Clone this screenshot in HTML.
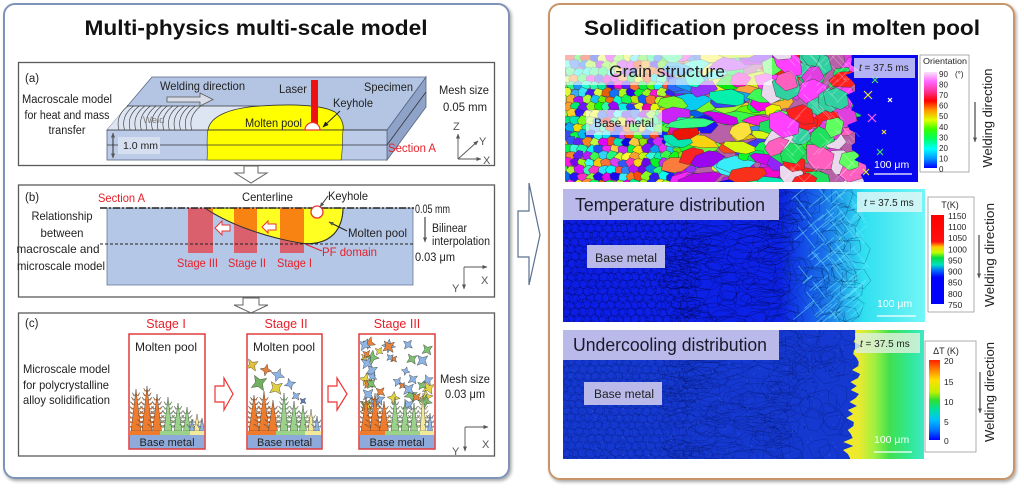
<!DOCTYPE html>
<html><head><meta charset="utf-8"><title>Multi-physics multi-scale model</title>
<style>
html,body{margin:0;padding:0;background:#fff}
body{width:1024px;height:488px;overflow:hidden}
svg{display:block}
text{font-family:"Liberation Sans",Arial,sans-serif}
</style></head><body>
<svg id="s" width="1024" height="488" viewBox="0 0 1024 488" xmlns="http://www.w3.org/2000/svg">
<defs>
<filter id="sh" x="-3%" y="-3%" width="106%" height="106%"><feDropShadow dx="1.5" dy="2" stdDeviation="1.5" flood-color="#000" flood-opacity="0.35"/></filter>
<marker id="ah" viewBox="0 0 10 10" refX="9" refY="5" markerWidth="6" markerHeight="6" markerUnits="userSpaceOnUse" orient="auto-start-reverse"><path d="M0,1 L10,5 L0,9 z" fill="#222"/></marker>
<marker id="ahs" viewBox="0 0 10 10" refX="9" refY="5" markerWidth="5" markerHeight="5" markerUnits="userSpaceOnUse" orient="auto-start-reverse"><path d="M0,1 L10,5 L0,9 z" fill="#555"/></marker>
<linearGradient id="gOri" x1="0" y1="0" x2="0" y2="1">
<stop offset="0" stop-color="#f8e4f8"/><stop offset="0.1" stop-color="#ff66ff"/><stop offset="0.2" stop-color="#ff3399"/><stop offset="0.3" stop-color="#ff0000"/><stop offset="0.4" stop-color="#ff9900"/><stop offset="0.5" stop-color="#e0ff00"/><stop offset="0.6" stop-color="#33ff00"/><stop offset="0.7" stop-color="#00ff66"/><stop offset="0.8" stop-color="#00ffff"/><stop offset="0.9" stop-color="#0099ff"/><stop offset="1" stop-color="#0000ff"/>
</linearGradient>
<linearGradient id="gT" x1="0" y1="0" x2="0" y2="1">
<stop offset="0" stop-color="#ff0000"/><stop offset="0.3" stop-color="#ff1010"/><stop offset="0.36" stop-color="#ffcc00"/><stop offset="0.42" stop-color="#c0ff00"/><stop offset="0.48" stop-color="#00e040"/><stop offset="0.56" stop-color="#00e0c0"/><stop offset="0.63" stop-color="#0060ff"/><stop offset="0.7" stop-color="#0000ff"/><stop offset="1" stop-color="#0000ff"/>
</linearGradient>
<linearGradient id="gU" x1="0" y1="0" x2="0" y2="1">
<stop offset="0" stop-color="#ff2000"/><stop offset="0.12" stop-color="#ff8000"/><stop offset="0.25" stop-color="#ffe000"/><stop offset="0.4" stop-color="#c0f000"/><stop offset="0.5" stop-color="#30e030"/><stop offset="0.62" stop-color="#00e0a0"/><stop offset="0.75" stop-color="#00c0ff"/><stop offset="0.88" stop-color="#0070ff"/><stop offset="1" stop-color="#0000ff"/>
</linearGradient>
<linearGradient id="g2bg" gradientUnits="userSpaceOnUse" x1="563" y1="0" x2="925" y2="0">
<stop offset="0" stop-color="#0c1ee6"/><stop offset="0.6" stop-color="#0c22e6"/><stop offset="0.72" stop-color="#1a70e8"/><stop offset="0.83" stop-color="#30e0f0"/><stop offset="1" stop-color="#74f6f6"/>
</linearGradient>
<linearGradient id="g3r" gradientUnits="userSpaceOnUse" x1="848" y1="0" x2="924" y2="0">
<stop offset="0" stop-color="#f4ea2a"/><stop offset="0.15" stop-color="#e8ea30"/><stop offset="0.35" stop-color="#a0f040"/><stop offset="0.55" stop-color="#40e050"/><stop offset="0.8" stop-color="#30e890"/><stop offset="1" stop-color="#40e8c8"/>
</linearGradient>
<clipPath id="c1"><rect x="565" y="55" width="353" height="127"/></clipPath>
<clipPath id="c2"><rect x="563" y="189" width="362" height="133"/></clipPath>
<clipPath id="c3"><rect x="563" y="330" width="361" height="129"/></clipPath>
<clipPath id="pool"><path d="M205,208 C225,222 260,236 300,243 C312,245 325,243 334,234 C341,226 343,216 343,208 Z"/></clipPath>
<clipPath id="k1"><rect x="130" y="335" width="74" height="100"/></clipPath>
<clipPath id="k2"><rect x="248" y="335" width="73" height="100"/></clipPath>
<clipPath id="k3"><rect x="360" y="335" width="74" height="100"/></clipPath>
</defs>

<!-- Outer panels -->
<rect x="4" y="4" width="505" height="474" rx="11" fill="#fff" stroke="#7d93b8" stroke-width="2" filter="url(#sh)"/>
<rect x="549" y="4" width="465" height="475" rx="11" fill="#fff" stroke="#c8956a" stroke-width="2" filter="url(#sh)"/>

<text x="256" y="35" font-size="21" font-weight="bold" text-anchor="middle" textLength="343" lengthAdjust="spacingAndGlyphs" fill="#111">Multi-physics multi-scale model</text>
<text x="782" y="35" font-size="21" font-weight="bold" text-anchor="middle" textLength="396" lengthAdjust="spacingAndGlyphs" fill="#111">Solidification process in molten pool</text>

<!-- big arrow between panels -->
<polygon points="518,211 529,211 529,183 540,235 529,285 529,257 518,257" fill="#fff" stroke="#5a7090" stroke-width="1.2"/>

<!-- ============ Panel (a) ============ -->
<rect x="18.5" y="62.5" width="476" height="103" fill="#fff" stroke="#5a5a5a" stroke-width="1.3"/>
<text x="25" y="82" font-size="11.5" fill="#222">(a)</text>
<g font-size="11.5" fill="#222" text-anchor="middle">
<text x="67" y="103" textLength="90" lengthAdjust="spacingAndGlyphs">Macroscale model</text>
<text x="67" y="119" textLength="85" lengthAdjust="spacingAndGlyphs">for heat and mass</text>
<text x="67" y="134" textLength="37" lengthAdjust="spacingAndGlyphs">transfer</text>
</g>
<polygon points="387,130 426,77 426,107 387,160" fill="#8fa3c9" stroke="#56647f" stroke-width="0.8"/>
<polygon points="107,130 152,77 426,77 387,130" fill="#b4c5e4" stroke="#56647f" stroke-width="0.8"/>
<rect x="107" y="130" width="280" height="30" fill="#bccbe8" stroke="#56647f" stroke-width="0.8"/>
<polygon points="107,130 127,106 290,106 208,130" fill="#dde5f2"/>
<g id="wa" fill="none" stroke="#333" stroke-width="0.6"></g>
<line x1="127" y1="106" x2="290" y2="106" stroke="#333" stroke-width="0.8"/>
<path d="M208,130 C210,116 230,108 260,106 C290,104 320,104 335,112 C342,118 344,125 343,130 Z" fill="#ffff00" stroke="#333" stroke-width="0.8"/>
<path d="M208,130 L343,130 C342,140 343,150 341,160 L207,160 C208,150 206,140 208,130 Z" fill="#ffff00" stroke="#333" stroke-width="0.6"/>
<line x1="107" y1="145" x2="387" y2="145" stroke="#333" stroke-width="0.8"/>
<line x1="387" y1="145" x2="426" y2="92" stroke="#333" stroke-width="0.8"/>
<line x1="107" y1="130" x2="387" y2="130" stroke="#333" stroke-width="0.8"/>
<rect x="311" y="80" width="7" height="45" fill="#ee1111"/>
<path d="M305,130 A7.5,7.5 0 0 1 320,130 Z" fill="#fff" stroke="#e33" stroke-width="1.2"/>
<line x1="340" y1="111" x2="323" y2="127" stroke="#222" stroke-width="0.9" marker-end="url(#ah)"/>
<text x="160" y="90" font-size="12" fill="#222" textLength="85" lengthAdjust="spacingAndGlyphs">Welding direction</text>
<polygon points="167,97 200,97 200,93 213,99.5 200,106 200,102 167,102" fill="#d8dde8" stroke="#555" stroke-width="0.8"/>
<text x="279" y="93" font-size="12" fill="#222" textLength="28" lengthAdjust="spacingAndGlyphs">Laser</text>
<text x="364" y="91" font-size="12" fill="#222" textLength="49" lengthAdjust="spacingAndGlyphs">Specimen</text>
<text x="333" y="107" font-size="12" fill="#222" textLength="40" lengthAdjust="spacingAndGlyphs">Keyhole</text>
<text x="245" y="127" font-size="12" fill="#222" textLength="57" lengthAdjust="spacingAndGlyphs">Molten pool</text>
<text x="143" y="123" font-size="9.5" fill="#7a7a7a">Weld</text>
<rect x="118" y="137" width="42" height="17" fill="#d5dff0"/>
<text x="123" y="149" font-size="10.5" fill="#222">1.0 mm</text>
<line x1="113" y1="133" x2="113" y2="158" stroke="#222" stroke-width="0.9" marker-start="url(#ahs)" marker-end="url(#ahs)"/>
<text x="388" y="152" font-size="11.5" fill="#e8202a" textLength="48" lengthAdjust="spacingAndGlyphs">Section A</text>
<text x="439" y="94" font-size="12" fill="#222" textLength="50" lengthAdjust="spacingAndGlyphs">Mesh size</text>
<text x="443" y="111" font-size="12" fill="#222" textLength="44" lengthAdjust="spacingAndGlyphs">0.05 mm</text>
<g stroke="#555" stroke-width="0.9">
<line x1="458" y1="159" x2="458" y2="134" marker-end="url(#ahs)"/>
<line x1="458" y1="159" x2="481" y2="159" marker-end="url(#ahs)"/>
<line x1="458" y1="159" x2="478" y2="141" marker-end="url(#ahs)"/>
</g>
<g font-size="11" fill="#555"><text x="453" y="130">Z</text><text x="479" y="145">Y</text><text x="483" y="164">X</text></g>

<!-- arrow a->b -->
<polygon points="244,166 258,166 258,173 267,173 251,183 235,173 244,173" fill="#fff" stroke="#666" stroke-width="1"/>

<!-- ============ Panel (b) ============ -->
<rect x="18.5" y="185" width="476" height="112" fill="#fff" stroke="#5a5a5a" stroke-width="1.3"/>
<text x="25" y="201" font-size="11.5" fill="#222">(b)</text>
<rect x="107" y="208" width="306" height="77" fill="#b5c7e7" stroke="#6a7a9a" stroke-width="0.8"/>
<path d="M205,208 C225,222 260,236 300,243 C312,245 325,243 334,234 C341,226 343,216 343,208 Z" fill="#ffff22" stroke="#333" stroke-width="1"/>
<g fill="#d9606c">
<rect x="188" y="208" width="25" height="45"/><rect x="234" y="208" width="23" height="45"/><rect x="280" y="208" width="24" height="45"/>
</g>
<g fill="#f88212" clip-path="url(#pool)">
<rect x="188" y="208" width="25" height="45"/><rect x="234" y="208" width="23" height="45"/><rect x="280" y="208" width="24" height="45"/>
</g>
<path d="M205,208 C225,222 260,236 300,243 C312,245 325,243 334,234 C341,226 343,216 343,208" fill="none" stroke="#333" stroke-width="1"/>
<line x1="100" y1="208" x2="414" y2="208" stroke="#222" stroke-width="1.5" stroke-dasharray="7,2,2,2"/>
<line x1="100" y1="244" x2="413" y2="244" stroke="#222" stroke-width="1" stroke-dasharray="3,2"/>
<circle cx="317" cy="212" r="6" fill="#fff" stroke="#e33" stroke-width="1.3"/>
<polygon points="215,228 222,221 222,225 230,225 230,231 222,231 222,235" fill="#fff" stroke="#e33" stroke-width="1"/>
<polygon points="262,227 268,221 268,224 276,224 276,230 268,230 268,233" fill="#fff" stroke="#e33" stroke-width="1"/>
<text x="98" y="202" font-size="12" fill="#e8202a" textLength="47" lengthAdjust="spacingAndGlyphs">Section A</text>
<text x="242" y="201" font-size="12" fill="#222" textLength="51" lengthAdjust="spacingAndGlyphs">Centerline</text>
<text x="328" y="200" font-size="12" fill="#222" textLength="40" lengthAdjust="spacingAndGlyphs">Keyhole</text>
<line x1="328" y1="196" x2="320" y2="207" stroke="#222" stroke-width="0.9" marker-end="url(#ahs)"/>
<text x="348" y="237" font-size="12" fill="#222" textLength="59" lengthAdjust="spacingAndGlyphs">Molten pool</text>
<line x1="347" y1="231" x2="329" y2="222" stroke="#222" stroke-width="1" marker-end="url(#ahs)"/>
<text x="322" y="256" font-size="12" fill="#e8202a" textLength="55" lengthAdjust="spacingAndGlyphs">PF domain</text>
<line x1="322" y1="251" x2="305" y2="244" stroke="#e8202a" stroke-width="1"/>
<g font-size="12" fill="#e8202a">
<text x="177" y="267" textLength="41" lengthAdjust="spacingAndGlyphs">Stage III</text>
<text x="228" y="267" textLength="38" lengthAdjust="spacingAndGlyphs">Stage II</text>
<text x="277" y="267" textLength="35" lengthAdjust="spacingAndGlyphs">Stage I</text>
</g>
<g font-size="12" fill="#222" text-anchor="middle">
<text x="62" y="220" textLength="61" lengthAdjust="spacingAndGlyphs">Relationship</text>
<text x="62" y="237" textLength="43" lengthAdjust="spacingAndGlyphs">between</text>
<text x="58" y="253" textLength="83" lengthAdjust="spacingAndGlyphs">macroscale and</text>
<text x="61" y="270" textLength="88" lengthAdjust="spacingAndGlyphs">microscale model</text>
</g>
<text x="415" y="213" font-size="11.5" fill="#222" textLength="35" lengthAdjust="spacingAndGlyphs">0.05 mm</text>
<line x1="425" y1="217" x2="425" y2="242" stroke="#222" stroke-width="1" marker-end="url(#ahs)"/>
<text x="432" y="232" font-size="11.5" fill="#222" textLength="35" lengthAdjust="spacingAndGlyphs">Bilinear</text>
<text x="432" y="245" font-size="11.5" fill="#222" textLength="58" lengthAdjust="spacingAndGlyphs">interpolation</text>
<text x="415" y="261" font-size="11.5" fill="#222" textLength="40" lengthAdjust="spacingAndGlyphs">0.03 μm</text>
<g stroke="#555" stroke-width="0.9">
<line x1="464" y1="267" x2="487" y2="267" marker-end="url(#ahs)"/>
<line x1="464" y1="267" x2="464" y2="289" marker-end="url(#ahs)"/>
</g>
<g font-size="11" fill="#555"><text x="452" y="292">Y</text><text x="481" y="284">X</text></g>

<!-- arrow b->c -->
<polygon points="243,298 259,298 259,305 268,305 251,313 234,305 243,305" fill="#fff" stroke="#666" stroke-width="1"/>

<!-- ============ Panel (c) ============ -->
<rect x="18.5" y="313" width="476" height="143" fill="#fff" stroke="#5a5a5a" stroke-width="1.3"/>
<text x="25" y="327" font-size="11.5" fill="#222">(c)</text>
<g font-size="12" fill="#222">
<text x="23" y="373" textLength="87" lengthAdjust="spacingAndGlyphs">Microscale model</text>
<text x="23" y="389" textLength="86" lengthAdjust="spacingAndGlyphs">for polycrystalline</text>
<text x="23" y="404" textLength="87" lengthAdjust="spacingAndGlyphs">alloy solidification</text>
</g>
<g font-size="12.5" fill="#e8202a" text-anchor="middle">
<text x="166" y="328">Stage I</text><text x="286" y="328">Stage II</text><text x="397" y="328">Stage III</text>
</g>
<rect x="129" y="334" width="76" height="115" fill="#fff"/>
<rect x="247" y="334" width="75" height="115" fill="#fff"/>
<rect x="359" y="334" width="76" height="115" fill="#fff"/>
<g id="d1" clip-path="url(#k1)"></g>
<g id="d2" clip-path="url(#k2)"></g>
<g id="d3" clip-path="url(#k3)"></g>
<g>
<rect x="130" y="431" width="30" height="4" fill="#ef7b2c"/><rect x="160" y="431" width="30" height="4" fill="#9ad28a"/><rect x="190" y="431" width="14" height="4" fill="#f2ea9a"/>
<rect x="248" y="431" width="28" height="4" fill="#ef7b2c"/><rect x="276" y="431" width="29" height="4" fill="#9ad28a"/><rect x="305" y="431" width="16" height="4" fill="#f2ea9a"/>
<rect x="360" y="431" width="25" height="4" fill="#ef7b2c"/><rect x="385" y="431" width="35" height="4" fill="#9ad28a"/><rect x="420" y="431" width="14" height="4" fill="#f2ea9a"/>
</g>
<rect x="129.7" y="435" width="74.6" height="13.5" fill="#8eaadb"/>
<rect x="247.7" y="435" width="73.6" height="13.5" fill="#8eaadb"/>
<rect x="359.7" y="435" width="74.6" height="13.5" fill="#8eaadb"/>
<g font-size="11" fill="#222" text-anchor="middle">
<text x="167" y="446">Base metal</text><text x="284.5" y="446">Base metal</text><text x="397" y="446">Base metal</text>
<text x="166" y="351" font-size="12">Molten pool</text><text x="284" y="351" font-size="12">Molten pool</text>
</g>
<rect x="129" y="334" width="76" height="115" fill="none" stroke="#e03c3c" stroke-width="1.5"/>
<rect x="247" y="334" width="75" height="115" fill="none" stroke="#e03c3c" stroke-width="1.5"/>
<rect x="359" y="334" width="76" height="115" fill="none" stroke="#e03c3c" stroke-width="1.5"/>
<polygon points="215,386 224,386 224,378 233,394 224,410 224,402 215,402" fill="#fff" stroke="#e33" stroke-width="1.2"/>
<polygon points="328,386 337,386 337,378 347,394 337,410 337,402 328,402" fill="#fff" stroke="#e33" stroke-width="1.2"/>
<text x="440" y="383" font-size="12" fill="#222" textLength="50" lengthAdjust="spacingAndGlyphs">Mesh size</text>
<text x="445" y="398" font-size="12" fill="#222" textLength="40" lengthAdjust="spacingAndGlyphs">0.03 μm</text>
<g stroke="#555" stroke-width="0.9">
<line x1="465" y1="427" x2="488" y2="427" marker-end="url(#ahs)"/>
<line x1="465" y1="427" x2="465" y2="451" marker-end="url(#ahs)"/>
</g>
<g font-size="11" fill="#555"><text x="452" y="455">Y</text><text x="482" y="448">X</text></g>

<!-- ============ Right images ============ -->
<!-- Image 1 -->
<g clip-path="url(#c1)">
<rect x="565" y="55" width="353" height="127" fill="#0808ee"/>
<rect x="565" y="55" width="290" height="127" fill="#b860a8"/>
<g id="g1"></g>
</g>
<rect x="565" y="55" width="207" height="30" fill="#fff" opacity="0.62"/>
<text x="609" y="77" font-size="17" fill="#222" textLength="116" lengthAdjust="spacingAndGlyphs">Grain structure</text>
<rect x="586" y="110" width="76" height="25" fill="#fff" opacity="0.62"/>
<text x="594" y="127" font-size="11.5" fill="#222" textLength="60" lengthAdjust="spacingAndGlyphs">Base metal</text>
<rect x="854" y="58" width="61" height="20" fill="#d0d0f4" opacity="0.85"/>
<text x="859" y="71" font-size="10" fill="#222"><tspan font-style="italic">t</tspan> = 37.5 ms</text>
<text x="874" y="168" font-size="10.5" fill="#fff">100 μm</text>
<line x1="874" y1="174" x2="912" y2="174" stroke="#fff" stroke-width="1.2"/>

<rect x="920" y="55" width="49" height="117" fill="#fff" stroke="#999" stroke-width="0.8"/>
<text x="945" y="64" font-size="8.5" fill="#222" text-anchor="middle" textLength="44" lengthAdjust="spacingAndGlyphs">Orientation</text>
<rect x="924" y="72" width="13" height="96" fill="url(#gOri)"/>
<g font-size="8" fill="#222">
<text x="939" y="77">90</text><text x="955" y="77">(°)</text><text x="939" y="87.6">80</text><text x="939" y="98.1">70</text><text x="939" y="108.7">60</text><text x="939" y="119.2">50</text><text x="939" y="129.8">40</text><text x="939" y="140.4">30</text><text x="939" y="150.9">20</text><text x="939" y="161.5">10</text><text x="939" y="172">0</text>
</g>
<text x="992" y="118" font-size="12.5" fill="#222" text-anchor="middle" transform="rotate(-90 992 118)" textLength="99" lengthAdjust="spacingAndGlyphs">Welding direction</text>
<line x1="975" y1="102" x2="975" y2="142" stroke="#222" stroke-width="1" marker-end="url(#ahs)"/>

<!-- Image 2 -->
<g clip-path="url(#c2)">
<rect x="563" y="189" width="362" height="133" fill="url(#g2bg)"/>
<g id="g2"></g>
</g>
<rect x="563" y="189" width="216" height="31" fill="#b9b9ea"/>
<text x="575" y="211" font-size="18" fill="#1a1a2a" textLength="190" lengthAdjust="spacingAndGlyphs">Temperature distribution</text>
<rect x="587" y="245" width="78" height="23" fill="#b9b9ea"/>
<text x="595" y="262" font-size="11.5" fill="#222" textLength="62" lengthAdjust="spacingAndGlyphs">Base metal</text>
<rect x="857" y="192" width="65" height="20" fill="#dff6f6" opacity="0.85"/>
<text x="864" y="206" font-size="10" fill="#222"><tspan font-style="italic">t</tspan> = 37.5 ms</text>
<text x="877" y="307" font-size="10.5" fill="#fff">100 μm</text>
<line x1="877" y1="316" x2="916" y2="316" stroke="#fff" stroke-width="1.2"/>

<rect x="928" y="197" width="46" height="115" fill="#fff" stroke="#999" stroke-width="0.8"/>
<text x="950" y="208" font-size="9" fill="#222" text-anchor="middle">T(K)</text>
<rect x="931" y="215" width="13" height="89" fill="url(#gT)"/>
<g font-size="8.5" fill="#222">
<text x="948" y="219">1150</text><text x="948" y="230">1100</text><text x="948" y="241">1050</text><text x="948" y="252.5">1000</text><text x="948" y="263.5">950</text><text x="948" y="274.5">900</text><text x="948" y="285.5">850</text><text x="948" y="297">800</text><text x="948" y="308">750</text>
</g>
<text x="994" y="255" font-size="12.5" fill="#222" text-anchor="middle" transform="rotate(-90 994 255)" textLength="104" lengthAdjust="spacingAndGlyphs">Welding direction</text>
<line x1="979" y1="235" x2="979" y2="278" stroke="#222" stroke-width="1" marker-end="url(#ahs)"/>

<!-- Image 3 -->
<g clip-path="url(#c3)">
<rect x="563" y="330" width="361" height="129" fill="#1438d0"/>
<g id="g3"></g>
</g>
<rect x="563" y="330" width="216" height="30" fill="#b9b9ea"/>
<text x="573" y="351" font-size="18" fill="#1a1a2a" textLength="194" lengthAdjust="spacingAndGlyphs">Undercooling distribution</text>
<rect x="584" y="382" width="78" height="23" fill="#b9b9ea"/>
<text x="594" y="398" font-size="11.5" fill="#222" textLength="60" lengthAdjust="spacingAndGlyphs">Base metal</text>
<rect x="855" y="333" width="65" height="20" fill="#dcf0d8" opacity="0.85"/>
<text x="860" y="347" font-size="10" fill="#222"><tspan font-style="italic">t</tspan> = 37.5 ms</text>
<text x="874" y="443" font-size="10.5" fill="#fff">100 μm</text>
<line x1="874" y1="452" x2="912" y2="452" stroke="#fff" stroke-width="1.2"/>

<rect x="925" y="341" width="51" height="111" fill="#fff" stroke="#999" stroke-width="0.8"/>
<text x="946" y="354" font-size="9" fill="#222" text-anchor="middle">ΔT (K)</text>
<rect x="929" y="360" width="11" height="80" fill="url(#gU)"/>
<g font-size="8.5" fill="#222">
<text x="944" y="364">20</text><text x="944" y="385">15</text><text x="944" y="405">10</text><text x="944" y="425">5</text><text x="944" y="444">0</text>
</g>
<text x="994" y="392" font-size="12.5" fill="#222" text-anchor="middle" transform="rotate(-90 994 392)" textLength="100" lengthAdjust="spacingAndGlyphs">Welding direction</text>
<line x1="980" y1="372" x2="980" y2="413" stroke="#222" stroke-width="1" marker-end="url(#ahs)"/>
</svg>

<script>
(function(){
var NS="http://www.w3.org/2000/svg",seed=20240607;
function R(){seed|=0;seed=seed+0x6D2B79F5|0;var t=Math.imul(seed^seed>>>15,1|seed);t=t+Math.imul(t^t>>>7,61|t)^t;return((t^t>>>14)>>>0)/4294967296;}
function E(p,tag,a){var e=document.createElementNS(NS,tag);for(var k in a)e.setAttribute(k,a[k]);p.appendChild(e);return e;}
function P(g,pts,fill,stroke,sw){var a={points:pts.map(function(q){return q[0].toFixed(1)+","+q[1].toFixed(1);}).join(" "),fill:fill};if(stroke){a.stroke=stroke;a["stroke-width"]=sw;}return E(g,"polygon",a);}
function B(cx,cy,rx,ry,ang,n){var p=[],c=Math.cos(ang),s=Math.sin(ang);for(var i=0;i<n;i++){var a=(i+R()*0.5)/n*6.2832,r=0.85+R()*0.3,x=Math.cos(a)*rx*r,y=Math.sin(a)*ry*r;p.push([cx+x*c-y*s,cy+x*s+y*c]);}return p;}
function H(){return "hsl("+Math.floor(R()*320)+",95%,"+(46+Math.floor(R()*16))+"%)";}
function L(g,x1,y1,x2,y2,st,w){return E(g,"line",{x1:x1.toFixed(1),y1:y1.toFixed(1),x2:x2.toFixed(1),y2:y2.toFixed(1),stroke:st,"stroke-width":w});}
function X(g,cx,cy,s,col,ang,st,inner){var f=inner||0.28,p=[];for(var k=0;k<4;k++){var a=ang+k*1.5708;p.push([cx+Math.cos(a)*s,cy+Math.sin(a)*s]);var b=a+0.785;p.push([cx+Math.cos(b)*s*f,cy+Math.sin(b)*s*f]);}P(g,p,col,st||"#333",0.4);}
function grains(g,y0,y1,fillF,st,sw){
 for(var y=y0,r=0;y<y1;y+=7,r++){var lim=688+R()*12;for(var x=558+(r%2)*4;x<lim;x+=8){P(g,B(x+R()*2,y+R()*2,5.6,5,0,6),fillF(),st,sw);}}
 for(var i=0;i<120;i++){var cx=672+R()*118,cy=y0+R()*(y1-y0);P(g,B(cx,cy,9+R()*15,5+R()*5,(R()-0.5)*0.5,7),fillF(),st,sw);}
}
function none(){return "none";}

/* weld ripples in panel (a) */
var wa=document.getElementById("wa");
for(var i=0;i<14;i++){var x=128+i*5.6;E(wa,"path",{d:"M"+x+",106 Q"+(x-13)+",116 "+(x-9)+",130"});}

/* Image 1 grain structure */
var g1=document.getElementById("g1");
grains(g1,50,188,H,"#333",0.4);
var dc=["#ff40ff","#20e060","#ff60c0","#ead8ee","#ff2020","#30d0a0","#e040e0","#60ff60","#20c070"];
for(var i=0;i<70;i++){var cx=768+R()*90,cy=50+R()*136;P(g1,B(cx,cy,9+R()*8,8+R()*6,(R()-0.5)*1.2,6),dc[Math.floor(R()*dc.length)],"#333",0.4);}
for(var i=0;i<70;i++){var cx=785+R()*75,cy=55+R()*127,l=5+R()*8,a=R()<0.5?0.8:-0.8;L(g1,cx-l*Math.cos(a),cy-l*Math.sin(a),cx+l*Math.cos(a),cy+l*Math.sin(a),"rgba(255,255,255,0.3)",0.8);}
var pts=[[920,50],[852,50]];for(var y=50;y<=190;y+=5){pts.push([845+R()*16+(y>150?6:0),y]);}pts.push([920,190]);
P(g1,pts,"#0808ee");
var cc=["#e8e040","#40e060","#ff60ff","#ffffff","#e8e040"];
[[868,95,4],[880,152,3],[872,118,4],[890,100,2],[866,172,3],[884,132,2],[875,80,3]].forEach(function(c,i){L(g1,c[0]-c[2],c[1]-c[2],c[0]+c[2],c[1]+c[2],cc[i%cc.length],1.2);L(g1,c[0]-c[2],c[1]+c[2],c[0]+c[2],c[1]-c[2],cc[i%cc.length],1.2);});

/* Image 2 temperature */
var g2=document.getElementById("g2");
grains(g2,185,326,none,"rgba(0,0,60,0.5)",0.5);
for(var i=0;i<60;i++){var cx=768+R()*88,cy=186+R()*138;P(g2,B(cx,cy,9+R()*8,8+R()*6,(R()-0.5)*1.2,6),"none","rgba(0,30,90,0.5)",0.5);}
for(var i=0;i<90;i++){var cx=800+R()*62,cy=190+R()*132,l=5+R()*9,a=R()<0.5?0.9:-0.7;L(g2,cx-l*Math.cos(a),cy-l*Math.sin(a),cx+l*Math.cos(a),cy+l*Math.sin(a),"rgba(110,235,255,0.5)",1);}
[[870,262,4],[876,245,3],[864,300,3],[880,232,2]].forEach(function(c){X(g2,c[0],c[1],c[2],"none","rgba(40,140,200,0.8)");});

/* Image 3 undercooling */
var g3=document.getElementById("g3");
grains(g3,326,463,none,"rgba(0,10,70,0.32)",0.5);
for(var i=0;i<50;i++){var cx=768+R()*88,cy=326+R()*136;P(g3,B(cx,cy,9+R()*8,8+R()*6,(R()-0.5)*1.2,6),"none","rgba(0,10,70,0.32)",0.5);}
for(var i=0;i<300;i++){E(g3,"rect",{x:(565+R()*290).toFixed(1),y:(330+R()*129).toFixed(1),width:1,height:1,fill:R()<0.5?"rgba(0,0,60,0.5)":"rgba(80,120,255,0.5)"});}
var p3=[[926,326],[862,326]];
for(var y=330;y<=462;y+=4){var bx=862-(y-330)*0.09+(R()*6-3);if(R()<0.25)bx-=6;p3.push([bx,y]);}
p3.push([926,462]);
P(g3,p3,"url(#g3r)");
[[872,352,6],[874,375,4],[868,385,3],[876,398,7],[866,446,5],[870,455,4],[880,430,2],[890,368,2],[900,380,2],[910,340,2],[868,412,3],[862,420,4]].forEach(function(c){X(g3,c[0],c[1],c[2],"#1030c0","#0a2090");});

/* Panel (c) dendrites and crystals */
function dendrite(g,x,base,h,w,col){
 var n=Math.floor(h/4.5);
 for(var k=1;k<n;k++){var yy=base-k*4.5,fr=1-k*4.5/h,bl=w*0.9*fr+2.5;
  P(g,[[x,yy+2],[x-bl,yy-2.5],[x-bl*0.6,yy+1],[x,yy-1]],col,"#333",0.3);
  P(g,[[x,yy+2],[x+bl,yy-2.5],[x+bl*0.6,yy+1],[x,yy-1]],col,"#333",0.3);}
 P(g,[[x-w/2,base],[x,base-h],[x+w/2,base]],col,"#333",0.4);
}
var OR="#ef7b2c",GR="#9ad28a",YE="#f2ea9a",BL="#8cb4e4";
var d1=document.getElementById("d1"),d2=document.getElementById("d2"),d3=document.getElementById("d3");
[[136,42,10,OR],[147,45,10,OR],[157,37,9,OR],[168,34,8,GR],[178,28,8,GR],[187,24,7,GR],[192,12,5,BL],[197,17,6,YE],[202,13,5,BL]].forEach(function(d){dendrite(d1,d[0],431,d[1],d[2],d[3]);});
[[252,365,7,"#e0c040"],[266,370,6,"#e88040"],[278,375,7,BL],[259,383,9,"#70b060"],[276,388,8,"#e0d040"],[290,384,6,BL],[296,396,5,BL],[303,401,4,"#6080c0"]].forEach(function(c){X(d2,c[0],c[1],c[2],c[3],R()*1.5,"#333",0.4);});
[[254,36,10,OR],[264,40,10,OR],[273,31,9,OR],[284,38,8,GR],[294,30,8,GR],[303,26,7,GR],[311,22,6,YE],[317,15,5,BL]].forEach(function(d){dendrite(d2,d[0],431,d[1],d[2],d[3]);});
var xc=[BL,BL,BL,"#e8823a","#7cc070","#e6d444"];
for(var i=0;i<40;i++){var cx=364+R()*66,cy=340+R()*(72-(cx-363)*0.1);X(d3,cx,cy,4+R()*4,xc[Math.floor(R()*xc.length)],R()*1.5,"#333",0.4);}
[[366,34,10,OR],[375,38,10,OR],[384,30,9,OR],[395,34,8,GR],[405,30,8,GR],[414,28,7,GR],[423,38,6,YE],[430,18,5,BL]].forEach(function(d){dendrite(d3,d[0],431,d[1],d[2],d[3]);});
})();
</script>
</body></html>
